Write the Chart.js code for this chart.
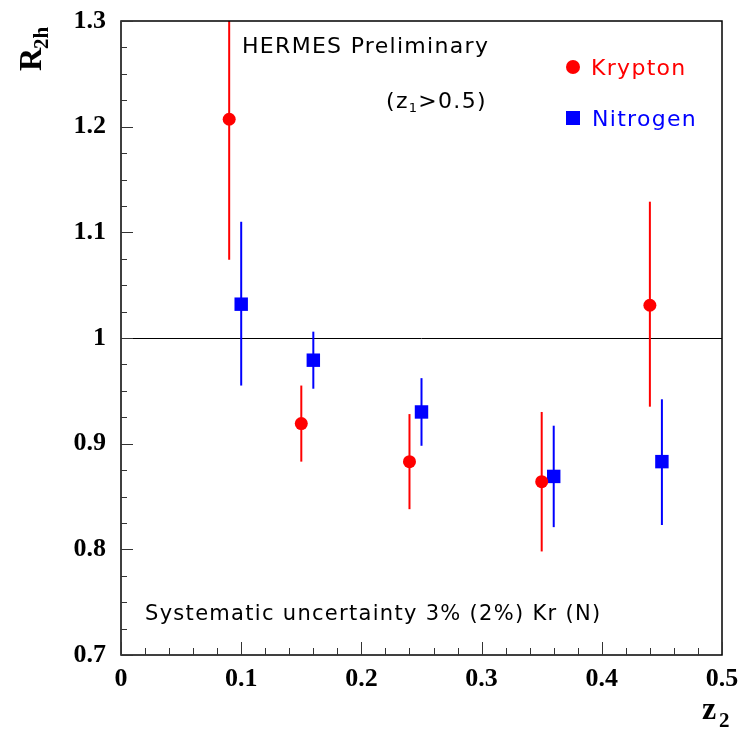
<!DOCTYPE html>
<html>
<head>
<meta charset="utf-8">
<script src="https://cdn.jsdelivr.net/npm/chart.js@4.4.1/dist/chart.umd.min.js"></script>
<style>
  html, body { margin: 0; padding: 0; background: #fff; }
  #wrap { width: 748px; height: 729px; position: relative; }
</style>
</head>
<body>
<div id="wrap"><canvas id="chart"></canvas></div>
<script>
// z2 bins and R_2h values
const kryptonZ = [0.09, 0.15, 0.24, 0.35, 0.44];
const kryptonR = [1.207, 0.919, 0.883, 0.864, 1.031];
const kryptonLo = [1.074, 0.883, 0.838, 0.798, 0.935];
const kryptonHi = [1.36, 0.955, 0.928, 0.930, 1.129];

const nitrogenZ = [0.10, 0.16, 0.25, 0.36, 0.45];
const nitrogenR = [1.032, 0.979, 0.930, 0.869, 0.883];
const nitrogenLo = [0.955, 0.952, 0.898, 0.821, 0.823];
const nitrogenHi = [1.110, 1.006, 0.962, 0.917, 0.942];

const xTicks = [0, 0.1, 0.2, 0.3, 0.4, 0.5];
const yTicks = [0.7, 0.8, 0.9, 1, 1.1, 1.2, 1.3];

const RED = '#ff0000';
const BLUE = '#0000ff';
const TEXT_FONT = '"DejaVu Sans"';

function toPoints(xs, ys, lo, hi) {
    return xs.map((x, i) => ({ x: x, y: ys[i], lo: lo[i], hi: hi[i] }));
}

// error bars, frame, ticks, reference line and texts
const decorations = {
    id: 'decorations',
    beforeDatasetsDraw(chart) {
        const ctx = chart.ctx;
        const a = chart.chartArea;
        const xs = chart.scales.x, ys = chart.scales.y;
        ctx.save();
        ctx.beginPath();
        ctx.rect(a.left, a.top, a.right - a.left, a.bottom - a.top);
        ctx.clip();
        // line at 1
        ctx.strokeStyle = '#000';
        ctx.lineWidth = 1;
        const y1 = Math.round(ys.getPixelForValue(1)) + 0.5;
        ctx.beginPath();
        ctx.moveTo(a.left, y1);
        ctx.lineTo(a.right, y1);
        ctx.stroke();
        // error bars
        ctx.lineWidth = 2;
        chart.data.datasets.forEach(ds => {
            ctx.strokeStyle = ds.borderColor;
            ds.data.forEach(p => {
                const px = xs.getPixelForValue(p.x);
                ctx.beginPath();
                ctx.moveTo(px, ys.getPixelForValue(p.lo));
                ctx.lineTo(px, ys.getPixelForValue(p.hi));
                ctx.stroke();
            });
        });
        ctx.restore();
    },
    afterDraw(chart) {
        const ctx = chart.ctx;
        const a = chart.chartArea;
        const xs = chart.scales.x, ys = chart.scales.y;
        ctx.save();
        // frame
        ctx.strokeStyle = '#000';
        ctx.lineWidth = 1.5;
        ctx.strokeRect(a.left, a.top, a.right - a.left, a.bottom - a.top);
        // ticks inside the frame
        ctx.lineWidth = 1;
        ctx.strokeStyle = '#333';
        for (let i = 0; i <= 25; i++) {
            const px = Math.round(xs.getPixelForValue(i * 0.02)) + 0.5;
            const len = (i % 5 === 0) ? 13 : 7;
            ctx.beginPath();
            ctx.moveTo(px, a.bottom);
            ctx.lineTo(px, a.bottom - len);
            ctx.stroke();
        }
        for (let i = 0; i <= 24; i++) {
            const py = Math.round(ys.getPixelForValue(0.7 + i * 0.025)) + 0.5;
            const len = (i % 4 === 0) ? 12 : 6;
            ctx.beginPath();
            ctx.moveTo(a.left, py);
            ctx.lineTo(a.left + len, py);
            ctx.stroke();
        }
        // axis titles
        ctx.fillStyle = '#000';
        ctx.textBaseline = 'alphabetic';
        ctx.textAlign = 'left';
        ctx.font = 'bold 32px "Liberation Serif"';
        ctx.fillText('z', 702, 719);
        ctx.font = 'bold 21px "Liberation Serif"';
        ctx.fillText('2', 719, 727);
        ctx.save();
        ctx.translate(41, 71);
        ctx.rotate(-Math.PI / 2);
        ctx.font = 'bold 32px "Liberation Serif"';
        ctx.fillText('R', 0, 0);
        ctx.font = 'bold 21px "Liberation Serif"';
        ctx.fillText('2h', 22, 7);
        ctx.restore();
        // texts inside the plot
        ctx.letterSpacing = '1.3px';
        ctx.font = '22px ' + TEXT_FONT;
        ctx.fillText('HERMES Preliminary', 242, 53);
        let tx = 386;
        ctx.fillText('(z', tx, 108);
        tx += ctx.measureText('(z').width;
        ctx.font = '13px ' + TEXT_FONT;
        ctx.fillText('1', tx, 112);
        tx += ctx.measureText('1').width;
        ctx.font = '22px ' + TEXT_FONT;
        ctx.fillText('>0.5)', tx, 108);
        ctx.font = '21px ' + TEXT_FONT;
        ctx.fillText('Systematic uncertainty 3% (2%) Kr (N)', 145, 620);
        // legend
        ctx.font = '22px ' + TEXT_FONT;
        ctx.fillStyle = RED;
        ctx.beginPath();
        ctx.arc(573, 67, 7, 0, Math.PI * 2);
        ctx.fill();
        ctx.fillText('Krypton', 591, 75);
        ctx.fillStyle = BLUE;
        ctx.fillRect(566, 111, 14, 14);
        ctx.fillText('Nitrogen', 592, 126);
        ctx.restore();
    }
};

new Chart(document.getElementById('chart'), {
    type: 'scatter',
    data: {
        datasets: [{
            label: 'Krypton',
            data: toPoints(kryptonZ, kryptonR, kryptonLo, kryptonHi),
            backgroundColor: RED,
            borderColor: RED,
            pointStyle: 'circle',
            pointRadius: 6.5,
            borderWidth: 0
        }, {
            label: 'Nitrogen',
            data: toPoints(nitrogenZ, nitrogenR, nitrogenLo, nitrogenHi),
            backgroundColor: BLUE,
            borderColor: BLUE,
            pointStyle: 'rect',
            pointRadius: 9.5,
            borderWidth: 0
        }]
    },
    options: {
        responsive: true,
        maintainAspectRatio: false,
        animation: false,
        layout: { padding: { left: 0, right: 26, top: 21, bottom: 0 } },
        scales: {
            x: {
                type: 'linear',
                min: 0,
                max: 0.5,
                afterBuildTicks: s => { s.ticks = xTicks.map(v => ({ value: v })); },
                afterFit: s => { s.height = 74; s.paddingLeft = 0; s.paddingRight = 0; },
                grid: { display: false, drawTicks: false },
                border: { display: false },
                ticks: {
                    color: '#000',
                    padding: 9,
                    maxRotation: 0,
                    font: { family: '"Liberation Serif"', weight: 'bold', size: 26 },
                    callback: v => v === 0 ? '0' : v.toFixed(1)
                }
            },
            y: {
                type: 'linear',
                min: 0.7,
                max: 1.3,
                afterBuildTicks: s => { s.ticks = yTicks.map(v => ({ value: v })); },
                afterFit: s => { s.width = 121; s.paddingTop = 0; s.paddingBottom = 0; },
                grid: { display: false, drawTicks: false },
                border: { display: false },
                ticks: {
                    color: '#000',
                    padding: 15,
                    font: { family: '"Liberation Serif"', weight: 'bold', size: 26 },
                    callback: v => v === 1 ? '1' : v.toFixed(1)
                }
            }
        },
        plugins: {
            legend: { display: false },
            tooltip: { enabled: false }
        }
    },
    plugins: [decorations]
});
</script>
</body>
</html>
